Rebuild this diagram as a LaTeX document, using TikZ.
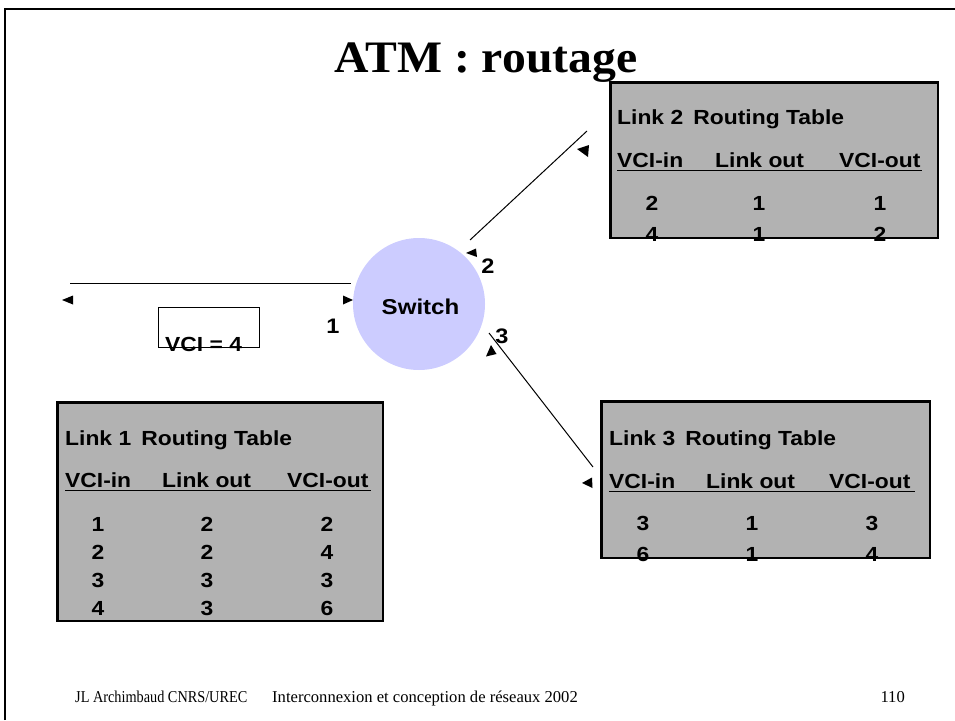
\documentclass[tikz,border=0pt]{standalone}
\usepackage{fontspec}
\usepackage{graphicx}
\setmainfont{Liberation Serif}
\newfontfamily\tabfont[FakeStretch=1.12]{Liberation Sans}
\newfontfamily\titlefont[FakeStretch=1.06]{Liberation Serif}
\definecolor{tabgray}{RGB}{178,178,178}
\definecolor{switchblue}{RGB}{204,204,255}
\begin{document}
\begin{tikzpicture}[x=1pt,y=-1pt,
  tabbox/.style={draw=black,line width=1.6pt,fill=tabgray,rectangle,anchor=north west,inner sep=0pt},
  tt/.style={font=\tabfont\bfseries\fontsize{20.4}{22}\selectfont,inner sep=0pt},
  lbl/.style={font=\tabfont\bfseries\fontsize{21}{24}\selectfont,inner sep=0pt,anchor=base},
  link/.style={line width=1pt,black},
  foot/.style={font=\fontsize{16.6}{19}\selectfont,inner sep=0pt,anchor=base west},
  uline/.style={line width=1pt,black}]
\useasboundingbox (0,0) rectangle (955,720);
% frame
\draw[line width=2pt] (5,720) -- (5,9) -- (955,9);
% title
\node[font=\titlefont\bfseries\fontsize{45}{50}\selectfont,inner sep=0pt,anchor=base] (title) at (486,72) {ATM : routage};

% switch
\node[circle,fill=switchblue,minimum size=132pt,inner sep=0pt] (sw) at (419,304) {};
\node[font=\tabfont\bfseries\fontsize{21.5}{24}\selectfont,inner sep=0pt,anchor=base] (swt) at (420.5,314) {Switch};

% link 1
\coordinate (l1a) at (70,283);
\coordinate (l1b) at (351,283);
\draw[link] (l1a) -- (l1b);
\fill (62,300) -- (73,295.5) -- (73,304.5) -- cycle;
\fill (353,300) -- (343,295.5) -- (343,304.5) -- cycle;
\node[lbl] (n1) at (333,333) {1};
\node[draw=black,line width=1pt,rectangle,anchor=north west,minimum width=101pt,minimum height=40pt,inner sep=0pt] (vci) at (158,307) {};
\node[tt,anchor=base west] (vcit) at (165,351) {VCI = 4};

% link 2
\coordinate (l2a) at (470,240);
\coordinate (l2b) at (587,131);
\draw[link] (l2a) -- (l2b);
\fill (577,149) -- (589,145) -- (588,157) -- cycle;
\fill (466,253) -- (476,248.5) -- (477,257) -- cycle;
\node[lbl] (n2) at (488,273) {2};

% link 3
\coordinate (l3a) at (489,333);
\coordinate (l3b) at (593,467);
\draw[link] (l3a) -- (l3b);
\fill (491,345) -- (486,356.5) -- (496.5,354) -- cycle;
\fill (582,483) -- (592,477.5) -- (592.5,488) -- cycle;
\node[lbl] (n3) at (502,343) {3};

% ---- Link 2 table
\node[tabbox,minimum width=327pt,minimum height=155pt] (t2) at (610,82) {};
\node[tt,anchor=base west] (t2h) at (617,124) {Link 2\hspace{0.5em}Routing Table};
\node[tt,anchor=base west] (t2c1) at (617,167) {VCI-in};
\node[tt,anchor=base west] (t2c2) at (715,167) {Link out};
\node[tt,anchor=base west] (t2c3) at (839,167) {VCI-out};
\draw[uline] (617,170) -- (922,170);
\foreach \a/\b/\c/\y in {2/1/1/210, 4/1/2/241}{
  \node[tt,anchor=base] at (652,\y) {\a};
  \node[tt,anchor=base] at (759,\y) {\b};
  \node[tt,anchor=base] at (880,\y) {\c};
}

% ---- Link 1 table
\node[tabbox,minimum width=325pt,minimum height=218pt] (t1) at (57,402) {};
\node[tt,anchor=base west] (t1h) at (65,445) {Link 1\hspace{0.5em}Routing Table};
\node[tt,anchor=base west] (t1c1) at (65,487) {VCI-in};
\node[tt,anchor=base west] (t1c2) at (162,487) {Link out};
\node[tt,anchor=base west] (t1c3) at (287,487) {VCI-out};
\draw[uline] (65,490) -- (371,490);
\foreach \a/\b/\c/\y in {1/2/2/531, 2/2/4/559, 3/3/3/587, 4/3/6/615}{
  \node[tt,anchor=base] at (98,\y) {\a};
  \node[tt,anchor=base] at (207,\y) {\b};
  \node[tt,anchor=base] at (327,\y) {\c};
}

% ---- Link 3 table
\node[tabbox,minimum width=328pt,minimum height=156pt] (t3) at (601,401) {};
\node[tt,anchor=base west] (t3h) at (609,445) {Link 3\hspace{0.5em}Routing Table};
\node[tt,anchor=base west] (t3c1) at (609,488) {VCI-in};
\node[tt,anchor=base west] (t3c2) at (706,488) {Link out};
\node[tt,anchor=base west] (t3c3) at (829,488) {VCI-out};
\draw[uline] (609,491) -- (915,491);
\foreach \a/\b/\c/\y in {3/1/3/530, 6/1/4/561}{
  \node[tt,anchor=base] at (643,\y) {\a};
  \node[tt,anchor=base] at (752,\y) {\b};
  \node[tt,anchor=base] at (872,\y) {\c};
}

% table borders over the digits
\draw[line width=1.6pt] (t1.north west) rectangle (t1.south east);
\draw[line width=1.6pt] (t2.north west) rectangle (t2.south east);
\draw[line width=1.6pt] (t3.north west) rectangle (t3.south east);

% footer
\node[foot] (f1) at (75,702) {\scalebox{0.86}[1]{JL Archimbaud CNRS/UREC}};
\node[foot] (f2) at (272,702) {Interconnexion et conception de réseaux 2002};
\node[foot,anchor=base east] (f3) at (905,702) {110};
\end{tikzpicture}
\end{document}
